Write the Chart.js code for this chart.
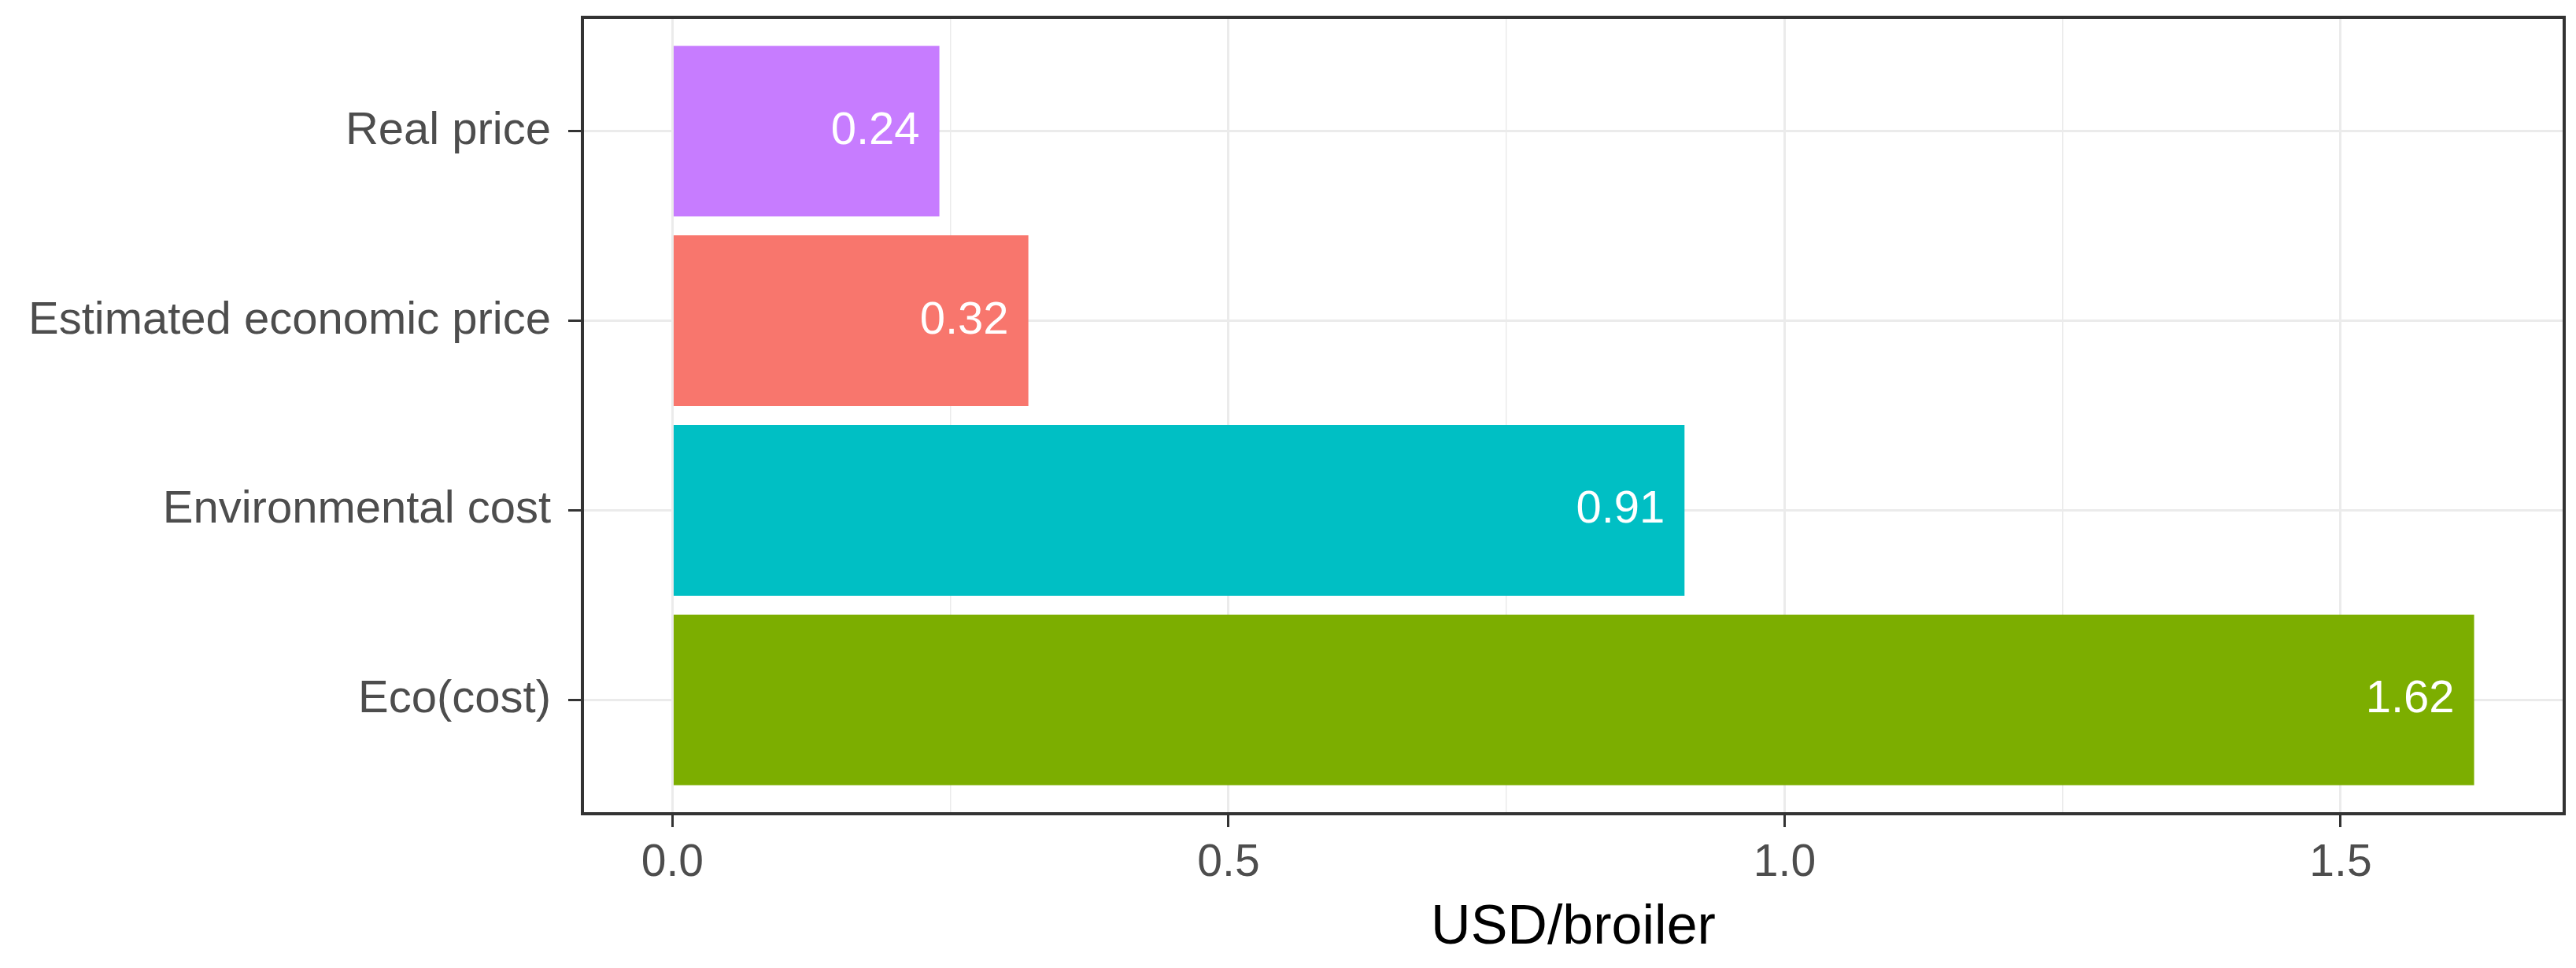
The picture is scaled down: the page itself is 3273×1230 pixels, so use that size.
<!DOCTYPE html>
<html>
<head>
<meta charset="utf-8">
<title>USD/broiler</title>
<script src="https://cdn.jsdelivr.net/npm/chart.js@4/dist/chart.umd.min.js"></script>
<style>
    body { margin: 0; background: #ffffff; }
    #graph { display: block; }
</style>
</head>
<body>
<canvas id="graph" width="3273" height="1230"></canvas>
<script>
// categories top to bottom, as in the picture
const categories = ['Real price', 'Estimated economic price', 'Environmental cost', 'Eco(cost)'];
const costs = [0.24, 0.32, 0.91, 1.62];
const valueLabels = ['0.24', '0.32', '0.91', '1.62'];
const barColors = ['#C77CFF', '#F8766D', '#00BFC4', '#7CAE00'];
const xTickLabels = {0: '0.0', 0.5: '0.5', 1: '1.0', 1.5: '1.5'};

const font = '"Liberation Sans", Arial, sans-serif';

// bar value labels, white, right aligned inside the bar end
const barLabels = {
    id: 'barLabels',
    afterDatasetsDraw(chart) {
        const ctx = chart.ctx;
        const meta = chart.getDatasetMeta(0);
        ctx.save();
        ctx.fillStyle = '#ffffff';
        ctx.font = '58px ' + font;
        ctx.textAlign = 'right';
        ctx.textBaseline = 'middle';
        meta.data.forEach(function (bar, i) {
            ctx.fillText(valueLabels[i], bar.x - 25, bar.y);
        });
        ctx.restore();
    }
};

// panel border like theme_bw
const panelBorder = {
    id: 'panelBorder',
    afterDraw(chart) {
        const a = chart.chartArea;
        const ctx = chart.ctx;
        ctx.save();
        ctx.strokeStyle = '#333333';
        ctx.lineWidth = 4;
        ctx.strokeRect(a.left, a.top, a.right - a.left, a.bottom - a.top);
        ctx.restore();
    }
};

function isMajor(v) {
    return Math.abs(v * 2 - Math.round(v * 2)) < 1e-6;
}

const graph = document.getElementById('graph').getContext('2d');

const barChart = new Chart(graph, {
    type: 'bar',
    data: {
        datasets: [{
            data: costs.map(function (c, i) { return {x: c, y: i}; }),
            backgroundColor: barColors,
            borderWidth: 0,
            barPercentage: 0.9,
            categoryPercentage: 1.0,
        }],
    },
    plugins: [barLabels, panelBorder],
    options: {
        responsive: false,
        animation: false,
        indexAxis: 'y',
        layout: {
            padding: {top: 22, right: 15, left: 0, bottom: 0}
        },
        plugins: {
            legend: {display: false},
            tooltip: {enabled: false},
        },
        scales: {
            x: {
                type: 'linear',
                min: -0.081,
                max: 1.701,
                border: {display: false},
                afterFit: function (scale) {
                    scale.height = 196;
                    scale.paddingLeft = 0;
                    scale.paddingRight = 0;
                },
                ticks: {
                    stepSize: 0.25,
                    includeBounds: false,
                    autoSkip: false,
                    maxRotation: 0,
                    padding: 12,
                    color: '#4D4D4D',
                    font: {family: font, size: 57},
                    callback: function (value) {
                        return xTickLabels[value] !== undefined ? xTickLabels[value] : '';
                    }
                },
                grid: {
                    color: '#EBEBEB',
                    lineWidth: function (c) { return isMajor(c.tick.value) ? 3 : 1.5; },
                    tickColor: function (c) { return isMajor(c.tick.value) ? '#333333' : 'rgba(0,0,0,0)'; },
                    tickWidth: 3,
                    tickLength: 17,
                },
                title: {
                    display: true,
                    text: 'USD/broiler',
                    color: '#000000',
                    font: {family: font, size: 70},
                    padding: {top: 0, bottom: 8},
                },
            },
            y: {
                type: 'linear',
                reverse: true,
                offset: false,
                min: -0.6,
                max: 3.6,
                border: {display: false},
                afterFit: function (scale) {
                    scale.width = 740;
                    scale.paddingTop = 0;
                    scale.paddingBottom = 0;
                },
                ticks: {
                    stepSize: 1,
                    includeBounds: false,
                    autoSkip: false,
                    padding: 22,
                    color: '#4D4D4D',
                    font: {family: font, size: 58},
                    callback: function (value) {
                        return categories[value] !== undefined ? categories[value] : '';
                    }
                },
                grid: {
                    offset: false,
                    color: '#EBEBEB',
                    lineWidth: 3,
                    tickColor: '#333333',
                    tickWidth: 3,
                    tickLength: 18,
                },
            },
        },
    }
});
</script>
</body>
</html>
